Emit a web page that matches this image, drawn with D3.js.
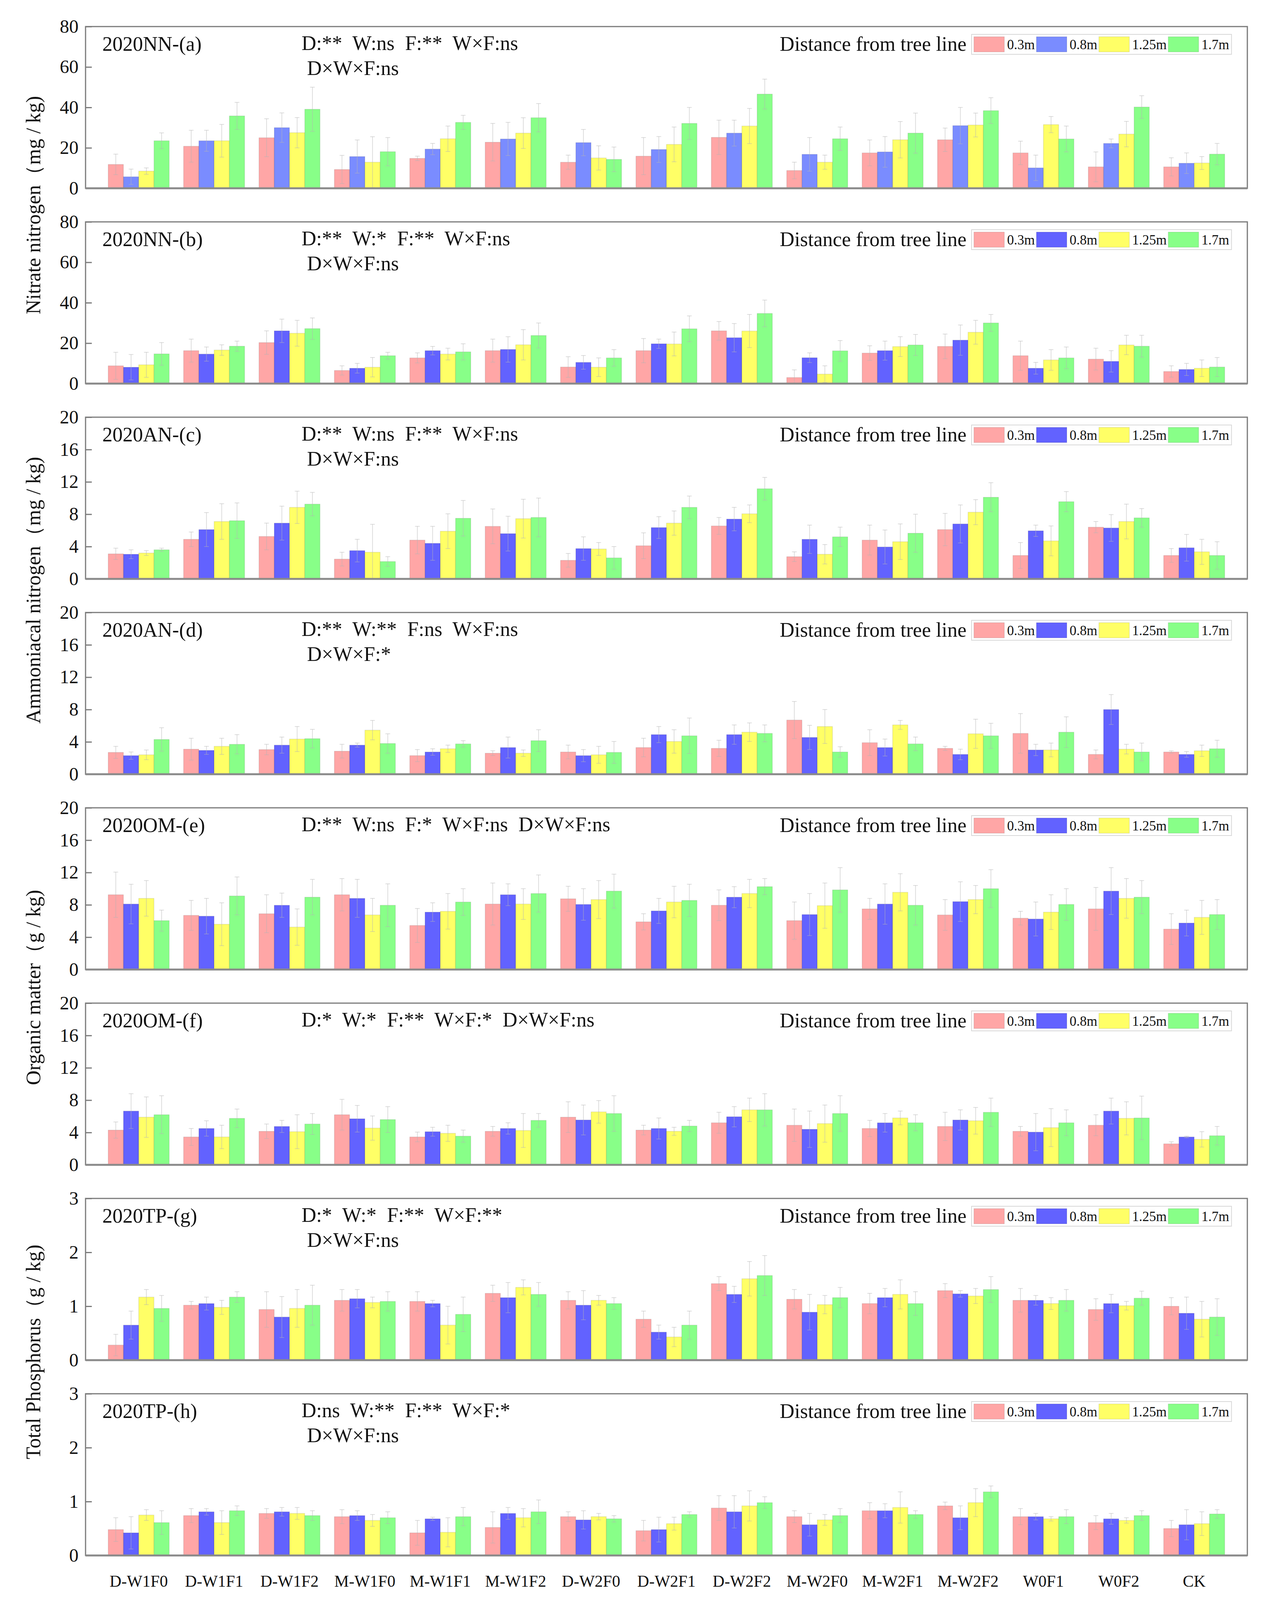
<!DOCTYPE html>
<html lang="en">
<head>
<meta charset="UTF-8">
<title>Soil nutrients by distance from tree line</title>
<script src="https://cdn.jsdelivr.net/npm/d3@7"></script>
<style>
  body { margin: 0; background: #fff; }
  text { font-family: "Liberation Serif", "Times New Roman", serif; fill: #111; }
</style>
</head>
<body>
<div id="chart"></div>
<script>
// treatments on the x axis
var categories = ["D-W1F0", "D-W1F1", "D-W1F2", "M-W1F0", "M-W1F1", "M-W1F2", "D-W2F0", "D-W2F1",
                  "D-W2F2", "M-W2F0", "M-W2F1", "M-W2F2", "W0F1", "W0F2", "CK"];
var distances = ["0.3m", "0.8m", "1.25m", "1.7m"];

var ticksNN = [0, 20, 40, 60, 80];
var ticksAN = [0, 4, 8, 12, 16, 20];
var ticksTP = [0, 1, 2, 3];

// one row per treatment: 0.3m, 0.8m, 1.25m, 1.7m
var nnA = [
  [11.8, 5.7, 8.5, 23.5],
  [20.8, 23.5, 23.5, 35.8],
  [25.0, 30.0, 27.5, 39.1],
  [9.3, 15.7, 12.9, 18.1],
  [14.8, 19.4, 24.5, 32.6],
  [22.8, 24.4, 27.3, 34.9],
  [12.9, 22.6, 15.0, 14.3],
  [15.9, 19.2, 21.7, 32.1],
  [25.2, 27.3, 30.8, 46.6],
  [8.8, 16.8, 12.9, 24.5],
  [17.5, 18.0, 24.0, 27.3],
  [24.0, 31.0, 31.3, 38.4],
  [17.5, 10.1, 31.5, 24.4],
  [10.6, 22.2, 26.8, 40.2],
  [10.6, 12.4, 12.5, 16.9]
];
var nnAErr = [
  [5.1, 3.8, 1.6, 3.9], [7.9, 5.2, 8.1, 6.7], [9.4, 7.3, 7.5, 10.9], [7.0, 8.2, 12.6, 7.0],
  [1.1, 2.8, 6.3, 3.5], [9.3, 8.2, 7.6, 7.0], [3.5, 6.5, 6.0, 6.1], [9.2, 6.4, 8.6, 7.9],
  [8.5, 6.4, 8.7, 7.4], [4.1, 8.3, 3.5, 5.8], [6.4, 7.6, 9.0, 9.9], [5.8, 9.0, 5.9, 6.4],
  [5.8, 6.3, 4.0, 6.4], [7.4, 2.2, 6.3, 5.6], [4.5, 5.1, 3.2, 5.3]
];

var nnB = [
  [8.8, 8.1, 9.3, 14.7],
  [16.3, 14.6, 16.6, 18.5],
  [20.3, 26.1, 24.9, 27.2],
  [6.5, 7.6, 8.1, 13.8],
  [12.7, 16.3, 14.6, 15.7],
  [16.3, 16.9, 19.2, 23.8],
  [8.2, 10.5, 8.1, 12.7],
  [16.3, 19.7, 19.6, 27.1],
  [26.1, 22.7, 26.0, 34.7],
  [3.0, 12.8, 4.7, 16.2],
  [15.1, 16.3, 18.3, 19.1],
  [18.4, 21.5, 25.4, 30.0],
  [13.8, 7.6, 11.7, 12.7],
  [12.1, 11.0, 19.1, 18.5],
  [6.0, 7.0, 7.6, 8.2]
];
var nnBErr = [
  [6.7, 6.3, 6.2, 5.6], [5.7, 3.5, 2.6, 2.5], [5.8, 5.8, 6.4, 5.3], [2.3, 2.4, 4.8, 1.7],
  [2.5, 2.1, 2.9, 4.0], [5.7, 6.3, 7.5, 6.2], [5.1, 3.4, 4.6, 4.1], [6.0, 2.3, 5.9, 6.4],
  [4.6, 7.0, 8.2, 6.6], [3.8, 2.4, 4.1, 5.1], [3.6, 4.7, 4.9, 5.2], [6.1, 7.5, 5.9, 4.2],
  [7.2, 2.9, 5.1, 5.4], [5.4, 5.3, 4.8, 5.4], [2.8, 3.0, 4.1, 4.7]
];

var anC = [
  [3.1, 3.05, 3.2, 3.6],
  [4.9, 6.1, 7.1, 7.2],
  [5.25, 6.9, 8.85, 9.25],
  [2.45, 3.5, 3.3, 2.15],
  [4.8, 4.4, 5.9, 7.5],
  [6.5, 5.6, 7.45, 7.6],
  [2.3, 3.75, 3.7, 2.6],
  [4.1, 6.35, 6.9, 8.85],
  [6.55, 7.4, 8.05, 11.15],
  [2.75, 4.9, 3.05, 5.2],
  [4.8, 3.95, 4.6, 5.65],
  [6.1, 6.8, 8.25, 10.1],
  [2.9, 5.95, 4.7, 9.55],
  [6.4, 6.3, 7.1, 7.55],
  [2.9, 3.85, 3.35, 2.9]
];
var anCErr = [
  [0.7, 0.55, 0.3, 0.2], [0.9, 2.1, 2.2, 2.2], [1.65, 2.1, 2.0, 1.45], [0.85, 1.4, 3.45, 0.6],
  [1.7, 2.1, 2.15, 2.2], [2.15, 2.15, 2.4, 2.4], [0.85, 1.45, 0.8, 1.4], [1.6, 1.35, 1.5, 1.4],
  [1.05, 1.45, 1.1, 1.4], [0.6, 1.75, 1.2, 1.2], [1.85, 2.1, 2.2, 2.35], [2.0, 2.35, 1.55, 1.8],
  [1.6, 0.7, 1.85, 1.25], [0.7, 1.65, 2.15, 1.15], [0.85, 1.65, 1.55, 1.7]
];

var anD = [
  [2.7, 2.3, 2.4, 4.3],
  [3.1, 2.95, 3.45, 3.7],
  [3.05, 3.6, 4.35, 4.4],
  [2.85, 3.6, 5.45, 3.8],
  [2.3, 2.75, 3.15, 3.75],
  [2.6, 3.3, 2.6, 4.15],
  [2.75, 2.3, 2.4, 2.7],
  [3.3, 4.9, 4.05, 4.75],
  [3.2, 4.9, 5.2, 5.05],
  [6.7, 4.55, 5.9, 2.75],
  [3.9, 3.3, 6.1, 3.75],
  [3.2, 2.45, 5.0, 4.75],
  [5.05, 3.0, 3.0, 5.2],
  [2.45, 8.0, 3.1, 2.75],
  [2.75, 2.45, 2.9, 3.15]
];
var anDErr = [
  [0.75, 0.45, 0.6, 1.45], [1.35, 0.5, 1.0, 1.2], [0.65, 1.0, 1.55, 1.15], [0.85, 0.25, 1.2, 1.2],
  [0.75, 0.4, 0.45, 0.4], [0.3, 1.3, 0.4, 1.35], [0.85, 0.75, 1.05, 1.35], [1.15, 1.0, 1.45, 2.2],
  [1.0, 1.2, 1.15, 1.05], [2.3, 1.5, 2.1, 0.65], [1.6, 1.05, 0.55, 0.85], [0.25, 0.65, 1.8, 1.55],
  [2.45, 0.7, 0.85, 1.9], [0.55, 1.85, 0.6, 1.1], [0.15, 0.35, 0.7, 1.05]
];

var omE = [
  [9.25, 8.1, 8.8, 6.05],
  [6.7, 6.6, 5.6, 9.1],
  [6.9, 7.95, 5.25, 8.95],
  [9.25, 8.8, 6.75, 7.95],
  [5.45, 7.1, 7.2, 8.35],
  [8.1, 9.25, 8.1, 9.4],
  [8.75, 8.05, 8.65, 9.7],
  [5.9, 7.25, 8.35, 8.55],
  [7.95, 8.95, 9.4, 10.25],
  [6.05, 6.8, 7.9, 9.85],
  [7.5, 8.1, 9.55, 7.95],
  [6.75, 8.4, 8.65, 10.0],
  [6.35, 6.25, 7.1, 8.05],
  [7.5, 9.7, 8.8, 8.95],
  [5.0, 5.75, 6.45, 6.8]
];
var omEErr = [
  [2.8, 2.45, 2.2, 1.3], [1.85, 2.2, 2.65, 2.35], [2.35, 1.5, 2.25, 2.2], [2.0, 2.35, 2.05, 2.65],
  [2.1, 1.15, 2.2, 1.65], [2.6, 1.35, 1.9, 2.3], [1.55, 1.95, 2.35, 2.1], [1.0, 1.55, 1.95, 2.0],
  [1.9, 1.3, 1.75, 1.0], [2.3, 2.6, 2.8, 2.75], [1.3, 2.5, 2.3, 2.45], [1.9, 2.45, 1.75, 2.35],
  [0.85, 2.1, 2.15, 1.95], [2.65, 2.9, 2.45, 2.05], [1.9, 1.6, 2.1, 1.85]
];

var omF = [
  [4.3, 6.65, 5.9, 6.2],
  [3.45, 4.5, 3.45, 5.75],
  [4.15, 4.75, 4.1, 5.05],
  [6.2, 5.7, 4.55, 5.6],
  [3.45, 4.1, 3.9, 3.55],
  [4.15, 4.5, 4.25, 5.5],
  [5.9, 5.55, 6.55, 6.35],
  [4.3, 4.5, 4.15, 4.8],
  [5.2, 5.95, 6.8, 6.8],
  [4.9, 4.4, 5.1, 6.35],
  [4.5, 5.2, 5.8, 5.2],
  [4.75, 5.55, 5.45, 6.5],
  [4.15, 4.05, 4.6, 5.2],
  [4.9, 6.65, 5.75, 5.8],
  [2.6, 3.45, 3.15, 3.6]
];
var omFErr = [
  [1.0, 2.15, 2.5, 2.35], [1.05, 0.95, 1.45, 1.15], [0.9, 0.75, 2.1, 1.3], [1.9, 1.65, 1.5, 1.6],
  [0.6, 0.55, 1.0, 0.75], [0.6, 0.7, 2.1, 0.85], [1.9, 1.85, 1.4, 2.2], [0.6, 1.3, 0.5, 0.7],
  [1.3, 1.25, 1.45, 2.0], [2.0, 2.25, 2.3, 2.2], [1.0, 1.15, 0.85, 1.0], [1.75, 1.25, 1.65, 1.75],
  [0.6, 2.3, 2.35, 1.6], [1.3, 1.6, 2.05, 2.7], [0.25, 0.1, 0.95, 1.15]
];

var tpG = [
  [0.28, 0.65, 1.17, 0.96],
  [1.02, 1.05, 0.98, 1.17],
  [0.94, 0.80, 0.96, 1.02],
  [1.11, 1.14, 1.07, 1.09],
  [1.09, 1.05, 0.65, 0.85],
  [1.24, 1.16, 1.35, 1.22],
  [1.11, 1.02, 1.11, 1.05],
  [0.76, 0.52, 0.43, 0.65],
  [1.42, 1.22, 1.51, 1.57],
  [1.13, 0.89, 1.03, 1.16],
  [1.05, 1.16, 1.22, 1.05],
  [1.29, 1.23, 1.19, 1.31],
  [1.11, 1.11, 1.05, 1.11],
  [0.94, 1.05, 1.01, 1.15],
  [1.00, 0.87, 0.76, 0.80]
];
var tpGErr = [
  [0.2, 0.26, 0.14, 0.24], [0.07, 0.12, 0.13, 0.1], [0.33, 0.38, 0.35, 0.37], [0.2, 0.17, 0.1, 0.18],
  [0.18, 0.06, 0.35, 0.32], [0.15, 0.28, 0.14, 0.22], [0.16, 0.27, 0.09, 0.11], [0.15, 0.13, 0.18, 0.26],
  [0.13, 0.15, 0.32, 0.37], [0.18, 0.33, 0.17, 0.19], [0.19, 0.17, 0.27, 0.22], [0.13, 0.06, 0.14, 0.24],
  [0.22, 0.09, 0.11, 0.2], [0.2, 0.17, 0.08, 0.13], [0.16, 0.3, 0.33, 0.34]
];

var tpH = [
  [0.48, 0.42, 0.75, 0.61],
  [0.74, 0.81, 0.61, 0.83],
  [0.78, 0.81, 0.78, 0.74],
  [0.72, 0.74, 0.65, 0.70],
  [0.42, 0.68, 0.43, 0.72],
  [0.52, 0.78, 0.70, 0.81],
  [0.72, 0.66, 0.72, 0.68],
  [0.46, 0.48, 0.59, 0.76],
  [0.88, 0.81, 0.92, 0.98],
  [0.72, 0.57, 0.66, 0.74],
  [0.83, 0.83, 0.89, 0.76],
  [0.92, 0.70, 0.98, 1.18],
  [0.72, 0.72, 0.68, 0.72],
  [0.61, 0.68, 0.65, 0.74],
  [0.50, 0.57, 0.59, 0.77]
];
var tpHErr = [
  [0.22, 0.3, 0.1, 0.22], [0.13, 0.06, 0.22, 0.09], [0.09, 0.08, 0.11, 0.09], [0.13, 0.09, 0.11, 0.11],
  [0.23, 0.03, 0.27, 0.17], [0.29, 0.11, 0.17, 0.22], [0.09, 0.17, 0.06, 0.06], [0.19, 0.23, 0.12, 0.05],
  [0.23, 0.3, 0.28, 0.11], [0.11, 0.21, 0.1, 0.13], [0.15, 0.13, 0.29, 0.07], [0.07, 0.22, 0.26, 0.11],
  [0.15, 0.06, 0.04, 0.13], [0.13, 0.1, 0.05, 0.09], [0.15, 0.28, 0.22, 0.08]
];

var yAxisTitles = ["Nitrate nitrogen（mg / kg)", "Ammoniacal nitrogen（mg / kg)",
                   "Organic matter（g / kg)", "Total Phosphorus（g / kg)"];

var panels = [
  {title: "2020NN-(a)", stats: ["D:** W:ns F:** W×F:ns", "D×W×F:ns"], values: nnA, errors: nnAErr, ticks: ticksNN},
  {title: "2020NN-(b)", stats: ["D:** W:* F:** W×F:ns", "D×W×F:ns"], values: nnB, errors: nnBErr, ticks: ticksNN},
  {title: "2020AN-(c)", stats: ["D:** W:ns F:** W×F:ns", "D×W×F:ns"], values: anC, errors: anCErr, ticks: ticksAN},
  {title: "2020AN-(d)", stats: ["D:** W:** F:ns W×F:ns", "D×W×F:*"], values: anD, errors: anDErr, ticks: ticksAN},
  {title: "2020OM-(e)", stats: ["D:** W:ns F:* W×F:ns D×W×F:ns"], values: omE, errors: omEErr, ticks: ticksAN},
  {title: "2020OM-(f)", stats: ["D:* W:* F:** W×F:* D×W×F:ns"], values: omF, errors: omFErr, ticks: ticksAN},
  {title: "2020TP-(g)", stats: ["D:* W:* F:** W×F:**", "D×W×F:ns"], values: tpG, errors: tpGErr, ticks: ticksTP},
  {title: "2020TP-(h)", stats: ["D:ns W:** F:** W×F:*", "D×W×F:ns"], values: tpH, errors: tpHErr, ticks: ticksTP}
];

var W = 3251, H = 4125;
var left = 219, right = 3193;
var firstTop = 68, panelH = 414, panelStep = 500;
var colorsA = ["#ffa6a6", "#7a8cff", "#ffff66", "#88ff88"];   // panel (a) uses a paler blue
var colors = ["#ffa6a6", "#6262ff", "#ffff66", "#88ff88"];

var svg = d3.select("#chart").append("svg")
    .attr("width", W)
    .attr("height", H)
    .style("display", "block");

var x = d3.scaleBand().domain(categories).range([left, right])
    .paddingInner(0.19).paddingOuter(0.3);
var xSub = d3.scaleBand().domain(distances).range([0, x.bandwidth()]);

panels.forEach(function(p, pi){
    var top = firstTop + pi * panelStep;
    var bottom = top + panelH;
    var max = p.ticks[p.ticks.length - 1];
    var y = d3.scaleLinear().domain([0, max]).range([bottom, top]);
    var cols = pi === 0 ? colorsA : colors;
    var g = svg.append("g").attr("class", "panel");

    // frame
    g.append("rect")
        .attr("x", left).attr("y", top)
        .attr("width", right - left).attr("height", panelH)
        .attr("fill", "none").attr("stroke", "#7a7a7a").attr("stroke-width", 3);

    // y axis, ticks point inward
    var ax = g.append("g")
        .attr("transform", "translate(" + left + ",0)")
        .call(d3.axisLeft(y).tickValues(p.ticks).tickFormat(d3.format("~g"))
              .tickSizeInner(-16).tickSizeOuter(0).tickPadding(18));
    ax.select(".domain").remove();
    ax.selectAll(".tick line").attr("stroke", "#7a7a7a").attr("stroke-width", 3);
    ax.selectAll(".tick text")
        .style("font-family", "'Liberation Serif', serif")
        .style("font-size", "48px")
        .attr("fill", "#111");

    // bars
    var groups = g.selectAll(".grp")
        .data(categories)
        .enter().append("g")
        .attr("transform", function(d){ return "translate(" + x(d) + ",0)"; });

    groups.selectAll("rect")
        .data(function(d, i){ return p.values[i].map(function(v, k){ return {k: k, v: v}; }); })
        .enter().append("rect")
        .attr("x", function(d){ return xSub(distances[d.k]); })
        .attr("y", function(d){ return y(d.v); })
        .attr("width", xSub.bandwidth())
        .attr("height", function(d){ return bottom - y(d.v); })
        .attr("fill", function(d){ return cols[d.k]; })
        .attr("stroke", "rgba(0,0,0,0.12)")
        .attr("stroke-width", 1.5);

    // error bars
    var eb = groups.selectAll(".err")
        .data(function(d, i){
            return p.values[i].map(function(v, k){ return {k: k, v: v, e: p.errors[i][k]}; });
        })
        .enter().append("g")
        .attr("class", "err")
        .attr("stroke", "#b4b4b4")
        .attr("stroke-opacity", 0.6)
        .attr("stroke-width", 1.5);
    eb.append("line")
        .attr("x1", function(d){ return xSub(distances[d.k]) + xSub.bandwidth() / 2; })
        .attr("x2", function(d){ return xSub(distances[d.k]) + xSub.bandwidth() / 2; })
        .attr("y1", function(d){ return y(d.v + d.e); })
        .attr("y2", function(d){ return y(Math.max(0, d.v - d.e)); });
    [1, -1].forEach(function(sign){
        eb.append("line")
            .attr("x1", function(d){ return xSub(distances[d.k]) + xSub.bandwidth() / 2 - 6; })
            .attr("x2", function(d){ return xSub(distances[d.k]) + xSub.bandwidth() / 2 + 6; })
            .attr("y1", function(d){ return y(Math.max(0, d.v + sign * d.e)); })
            .attr("y2", function(d){ return y(Math.max(0, d.v + sign * d.e)); });
    });

    // baseline
    g.append("line")
        .attr("x1", left).attr("x2", right)
        .attr("y1", bottom).attr("y2", bottom)
        .attr("stroke", "#8a8a8a").attr("stroke-width", 5);

    // panel title and significance notes
    g.append("text")
        .attr("x", 262).attr("y", top + 62)
        .style("font-size", "52px")
        .text(p.title);
    p.stats.forEach(function(s, si){
        g.append("text")
            .attr("x", si === 0 ? 772 : 786)
            .attr("y", top + 60 + si * 64)
            .style("font-size", "52px")
            .style("word-spacing", "14px")
            .text(s);
    });

    // legend
    g.append("text")
        .attr("x", 2474).attr("y", top + 62)
        .attr("text-anchor", "end")
        .style("font-size", "52px")
        .text("Distance from tree line");
    var lg = g.append("g").attr("transform", "translate(2493," + (top + 26) + ")");
    var box = lg.append("rect")
        .attr("x", -6).attr("y", -6).attr("height", 51)
        .attr("fill", "#fff").attr("stroke", "#d8d8d8").attr("stroke-width", 2);
    var cx = 0;
    distances.forEach(function(d, k){
        lg.append("rect")
            .attr("x", cx).attr("y", 0)
            .attr("width", 78).attr("height", 39)
            .attr("fill", cols[k])
            .attr("stroke", "rgba(0,0,0,0.12)").attr("stroke-width", 1.5);
        var t = lg.append("text")
            .attr("x", cx + 85).attr("y", 32)
            .style("font-size", "35px")
            .text(d);
        cx += 85 + t.node().getComputedTextLength() + 4;
    });
    box.attr("width", cx + 8);
});

// shared y axis titles, one per pair of panels
var titleCenters = [525, 1511, 2528, 3461];
yAxisTitles.forEach(function(t, i){
    svg.append("text")
        .attr("transform", "translate(103," + titleCenters[i] + ") rotate(-90)")
        .attr("text-anchor", "middle")
        .style("font-size", "52px")
        .text(t);
});

// category labels under the last panel
var lastBottom = firstTop + 7 * panelStep + panelH;
var xa = svg.append("g")
    .attr("transform", "translate(0," + lastBottom + ")")
    .call(d3.axisBottom(x).tickSize(0).tickPadding(50));
xa.select(".domain").remove();
xa.selectAll(".tick text")
    .style("font-family", "'Liberation Serif', serif")
    .style("font-size", "42px")
    .attr("fill", "#111");
</script>
</body>
</html>
